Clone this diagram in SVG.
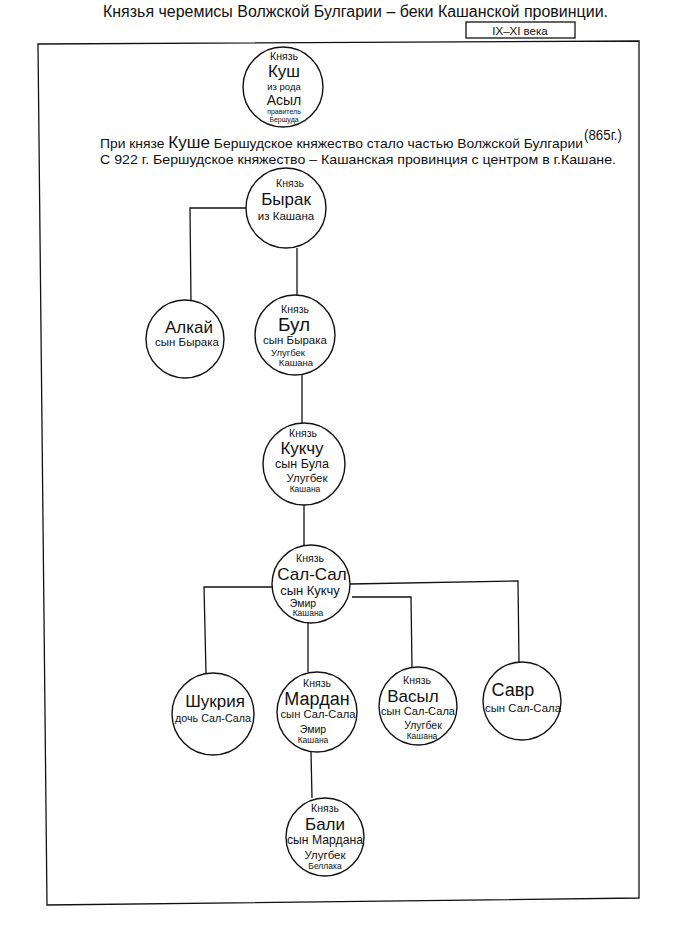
<svg xmlns="http://www.w3.org/2000/svg" width="680" height="927" viewBox="0 0 680 927">
<style>
text{font-family:"Liberation Sans","DejaVu Sans",sans-serif;fill:#111;text-anchor:middle}
.n circle{fill:#fff;stroke:#111;stroke-width:1.4}
.c{fill:none;stroke:#111;stroke-width:1.3}
.t{font-size:10.5px}
.nm{font-size:17px}
.s{font-size:11.5px}
.u{font-size:10.5px}
.k{font-size:8.5px}
.free{text-anchor:start}
</style>
<rect width="680" height="927" fill="#fff"/>
<g id="frame">
<path class="c" d="M38,44 L639,41 L639,898 L47,905 Z"/>
<rect class="c" x="466" y="22" width="109" height="16"/>
<text x="520" y="34.5" style="font-size:11.5px">IX–XI века</text>
<text x="103" y="17" class="free" style="font-size:16px" textLength="505" lengthAdjust="spacingAndGlyphs">Князья черемисы Волжской Булгарии – беки Кашанской провинции.</text>
<text x="100" y="148" class="free" style="font-size:13px" textLength="483" lengthAdjust="spacingAndGlyphs">При князе <tspan style="font-size:16px">Куше</tspan> Бершудское княжество стало частью Волжской Булгарии</text>
<text x="584" y="140" class="free" style="font-size:15px" textLength="38" lengthAdjust="spacingAndGlyphs">(865г.)</text>
<text x="100" y="164" class="free" style="font-size:13px" textLength="516" lengthAdjust="spacingAndGlyphs">С 922 г. Бершудское княжество  – Кашанская провинция с центром в г.Кашане.</text>
</g>
<g id="connectors">
<polyline class="c" points="247,208 190,208 191,302"/>
<line class="c" x1="297" y1="248" x2="297" y2="295"/>
<line class="c" x1="302" y1="375" x2="302" y2="423"/>
<line class="c" x1="304" y1="505" x2="304" y2="545"/>
<polyline class="c" points="272,587 204,587 206,673"/>
<line class="c" x1="308" y1="622" x2="308" y2="672"/>
<polyline class="c" points="352,597 411,597 412,668"/>
<polyline class="c" points="350,584 518,581 519,663"/>
<line class="c" x1="311" y1="752" x2="312" y2="798"/>
</g>
<g id="kush" class="n">
<circle cx="283" cy="87" r="40"/>
<text x="284" y="60" class="t">Князь</text>
<text x="284" y="77" style="font-size:17px">Куш</text>
<text x="284" y="90" style="font-size:9.5px">из рода</text>
<text x="284" y="105" style="font-size:14px">Асыл</text>
<text x="284" y="114" style="font-size:7px">правитель</text>
<text x="284" y="122" style="font-size:7px">Бершуда</text>
</g>
<g id="byrak" class="n">
<circle cx="286" cy="208" r="40"/>
<text x="290" y="187" class="t">Князь</text>
<text x="286" y="205" class="nm">Бырак</text>
<text x="286" y="220" class="s">из Кашана</text>
</g>
<g id="alkai" class="n">
<circle cx="185" cy="339" r="39"/>
<text x="189" y="333" class="nm">Алкай</text>
<text x="187" y="346" class="s">сын Бырака</text>
</g>
<g id="bul" class="n">
<circle cx="295" cy="335" r="40"/>
<text x="295" y="313" class="t">Князь</text>
<text x="294" y="331" style="font-size:19px">Бул</text>
<text x="295" y="344" class="s">сын Бырака</text>
<text x="288" y="356" style="font-size:9.5px">Улугбек</text>
<text x="296" y="366" style="font-size:9.5px">Кашана</text>
</g>
<g id="kukchu" class="n">
<circle cx="304" cy="464" r="41"/>
<text x="303" y="437" class="t">Князь</text>
<text x="302" y="454" style="font-size:17px">Кукчу</text>
<text x="302" y="468" style="font-size:12.5px">сын Була</text>
<text x="307" y="482" class="s">Улугбек</text>
<text x="305" y="492" class="k">Кашана</text>
</g>
<g id="salsal" class="n">
<circle cx="311" cy="584" r="39"/>
<text x="310" y="562" class="t">Князь</text>
<text x="312" y="580" style="font-size:17px">Сал-Сал</text>
<text x="310" y="595" style="font-size:13px">сын Кукчу</text>
<text x="303" y="607" class="u">Эмир</text>
<text x="308" y="616" class="k">Кашана</text>
</g>
<g id="shukria" class="n">
<circle cx="213" cy="714" r="41"/>
<text x="215" y="707" class="nm">Шукрия</text>
<text x="213" y="722" class="s" textLength="76" lengthAdjust="spacingAndGlyphs">дочь Сал-Сала</text>
</g>
<g id="mardan" class="n">
<circle cx="317" cy="712" r="40"/>
<text x="317" y="687" class="t">Князь</text>
<text x="317" y="705" style="font-size:18px">Мардан</text>
<text x="318" y="718" class="s" textLength="75" lengthAdjust="spacingAndGlyphs">сын Сал-Сала</text>
<text x="313" y="733" class="u">Эмир</text>
<text x="313" y="743" class="k">Кашана</text>
</g>
<g id="vasyl" class="n">
<circle cx="418" cy="706" r="39"/>
<text x="417" y="684" class="t">Князь</text>
<text x="413" y="702" class="nm">Васыл</text>
<text x="418" y="715" class="s" textLength="74" lengthAdjust="spacingAndGlyphs">сын Сал-Сала</text>
<text x="423" y="729" class="u">Улугбек</text>
<text x="422" y="739" class="k">Кашана</text>
</g>
<g id="savr" class="n">
<circle cx="522" cy="701" r="39"/>
<text x="513" y="696" style="font-size:18px">Савр</text>
<text x="523" y="712" class="s" textLength="76" lengthAdjust="spacingAndGlyphs">сын Сал-Сала</text>
</g>
<g id="bali" class="n">
<circle cx="325" cy="837" r="39"/>
<text x="325" y="812" class="t">Князь</text>
<text x="325" y="830" style="font-size:17px">Бали</text>
<text x="325" y="844" style="font-size:12.5px" textLength="76" lengthAdjust="spacingAndGlyphs">сын Мардана</text>
<text x="325" y="859" class="s">Улугбек</text>
<text x="325" y="869" class="k">Беллака</text>
</g>
</svg>
